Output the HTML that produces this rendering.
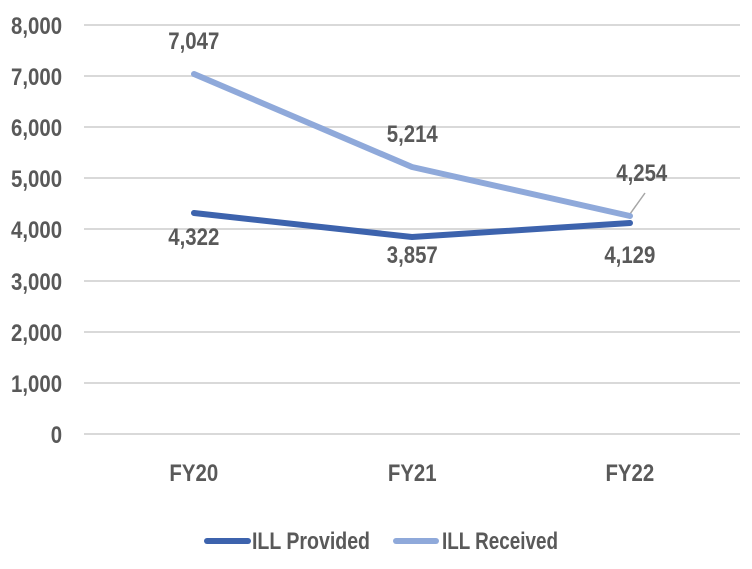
<!DOCTYPE html>
<html><head><style>body{margin:0;background:#fff}</style></head><body>
<svg width="752" height="564" xmlns="http://www.w3.org/2000/svg" font-family="'Liberation Sans Narrow','Liberation Sans',sans-serif" font-weight="bold" fill="#595959">
<g stroke="#d9d9d9" stroke-width="2">
<line x1="84" x2="740" y1="25" y2="25"/><line x1="84" x2="740" y1="76" y2="76"/><line x1="84" x2="740" y1="127" y2="127"/><line x1="84" x2="740" y1="178" y2="178"/><line x1="84" x2="740" y1="229" y2="229"/><line x1="84" x2="740" y1="281" y2="281"/><line x1="84" x2="740" y1="332" y2="332"/><line x1="84" x2="740" y1="383" y2="383"/><line x1="84" x2="740" y1="434" y2="434"/>
</g>
<g font-size="24" text-anchor="end" transform="scale(0.85,1)">
<text x="73" y="34">8,000</text><text x="73" y="85">7,000</text><text x="73" y="136">6,000</text><text x="73" y="187">5,000</text><text x="73" y="238">4,000</text><text x="73" y="290">3,000</text><text x="73" y="341">2,000</text><text x="73" y="392">1,000</text><text x="73" y="443">0</text>
</g>
<g font-size="24" text-anchor="middle" transform="scale(0.85,1)">
<text x="228" y="481">FY20</text><text x="485" y="481">FY21</text><text x="741" y="481">FY22</text>
<text x="228" y="49">7,047</text><text x="485" y="142">5,214</text><text x="755" y="181">4,254</text>
<text x="228" y="245">4,322</text><text x="485" y="263">3,857</text><text x="741" y="263">4,129</text>
</g>
<line x1="630" y1="214" x2="645" y2="193" stroke="#a6a6a6" stroke-width="1.5"/>
<polyline points="194,74 412,167 630,216" fill="none" stroke="#8fa9da" stroke-width="6" stroke-linecap="round" stroke-linejoin="round"/>
<polyline points="194,213 412,237 630,223" fill="none" stroke="#3d63ad" stroke-width="6" stroke-linecap="round" stroke-linejoin="round"/>
<line x1="207" y1="541" x2="248" y2="541" stroke="#3d63ad" stroke-width="6" stroke-linecap="round"/>
<line x1="396" y1="541" x2="436" y2="541" stroke="#8fa9da" stroke-width="6" stroke-linecap="round"/>
<g font-size="24">
<text x="252" y="549" textLength="118" lengthAdjust="spacingAndGlyphs">ILL Provided</text><text x="442" y="549" textLength="116" lengthAdjust="spacingAndGlyphs">ILL Received</text>
</g>
</svg>
</body></html>
